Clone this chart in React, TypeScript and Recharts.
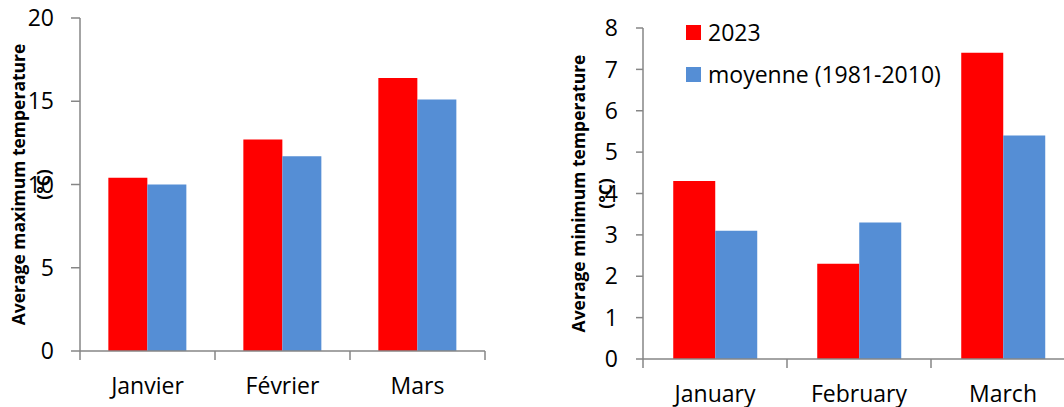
import React from 'react'
import { BarChart, Bar, XAxis, YAxis } from 'recharts'

const maxMonths = ['Janvier', 'Février', 'Mars']
const max2023 = [10.4, 12.7, 16.4]
const maxNormal = [10.0, 11.7, 15.1]
const maxTicks = [0, 5, 10, 15, 20]

const minMonths = ['January', 'February', 'March']
const min2023 = [4.3, 2.3, 7.4]
const minNormal = [3.1, 3.3, 5.4]
const minTicks = [0, 1, 2, 3, 4, 5, 6, 7, 8]

const seriesNames = ['2023', 'moyenne (1981-2010)']

const RED = '#FF0000'
const BLUE = '#558ED5'
const AXIS = '#868686'
const FONT = '"Open Sans", sans-serif'

const maxData = maxMonths.map((m, i) => ({ month: m, y2023: max2023[i], normal: maxNormal[i] }))
const minData = minMonths.map((m, i) => ({ month: m, y2023: min2023[i], normal: minNormal[i] }))

// category label in the middle, tick marks on the band edges (Excel style)
function MonthTick(props: any) {
  const { x, y, payload, index, visibleTicksCount } = props
  const half = payload.offset || 0
  const last = index === visibleTicksCount - 1
  return (
    <g>
      <line x1={x - half} y1={y} x2={x - half} y2={y + 9} stroke={AXIS} strokeWidth={1.5} />
      {last && <line x1={x + half} y1={y} x2={x + half} y2={y + 9} stroke={AXIS} strokeWidth={1.5} />}
      <text x={x} y={y + 43} textAnchor="middle" fill="#000" fontSize={23} fontFamily={FONT}>
        {payload.value}
      </text>
    </g>
  )
}

function AxisTitle(props: any) {
  const { viewBox, line1, line2, x1, x2 } = props
  const cy = viewBox.y + viewBox.height / 2
  const style = { fontFamily: FONT, fontWeight: 700, fontSize: 17.5, fill: '#000' }
  return (
    <g>
      <text x={x1} y={cy} transform={`rotate(-90, ${x1}, ${cy})`} textAnchor="middle" dominantBaseline="central" style={style}>
        {line1}
      </text>
      <text x={x2} y={cy} transform={`rotate(-90, ${x2}, ${cy})`} textAnchor="middle" dominantBaseline="central" style={style}>
        {line2}
      </text>
    </g>
  )
}

function LegendBox() {
  const colors = [RED, BLUE]
  return (
    <div style={{ position: 'absolute', left: 686, top: 11, fontFamily: FONT, fontSize: 23, color: '#000', lineHeight: 1 }}>
      {seriesNames.map((name, i) => (
        <div key={name} style={{ display: 'flex', alignItems: 'center', height: 42, whiteSpace: 'nowrap' }}>
          <span style={{ display: 'inline-block', width: 15, height: 15, background: colors[i], marginRight: 7 }} />
          <span>{name}</span>
        </div>
      ))}
    </div>
  )
}

const tickStyle = { fill: '#000', fontSize: 23, fontFamily: FONT }

export default function App() {
  return (
    <div style={{ position: 'absolute', left: 0, top: 0, width: 1064, height: 407, overflow: 'hidden', background: '#fff' }}>
      <div style={{ position: 'absolute', left: 0, top: 0 }}>
        <BarChart width={500} height={407} data={maxData} margin={{ top: 18, right: 15, bottom: 0, left: 0 }} barCategoryGap="21%" barGap={0}>
          <XAxis dataKey="month" tick={<MonthTick />} tickLine={false} tickSize={0} tickMargin={0} height={56} stroke={AXIS} strokeWidth={1.5} interval={0} />
          <YAxis
            width={80}
            domain={[0, 20]}
            ticks={maxTicks}
            tickSize={9}
            tickMargin={17}
            tick={tickStyle}
            stroke={AXIS}
            strokeWidth={1.5}
            label={<AxisTitle line1="Average maximum temperature" line2="(°C)" x1={18} x2={43} />}
          />
          <Bar dataKey="y2023" name={seriesNames[0]} fill={RED} isAnimationActive={false} />
          <Bar dataKey="normal" name={seriesNames[1]} fill={BLUE} isAnimationActive={false} />
        </BarChart>
      </div>
      <div style={{ position: 'absolute', left: 560, top: 0 }}>
        <BarChart width={520} height={407} data={minData} margin={{ top: 28, right: 5, bottom: 0, left: 0 }} barCategoryGap="21%" barGap={0}>
          <XAxis dataKey="month" tick={<MonthTick />} tickLine={false} tickSize={0} tickMargin={0} height={48} stroke={AXIS} strokeWidth={1.5} interval={0} />
          <YAxis
            width={83}
            domain={[0, 8]}
            ticks={minTicks}
            tickSize={7}
            tickMargin={18}
            tick={tickStyle}
            stroke={AXIS}
            strokeWidth={1.5}
            label={<AxisTitle line1="Average minimum temperature" line2="(°C)" x1={18} x2={45} />}
          />
          <Bar dataKey="y2023" name={seriesNames[0]} fill={RED} isAnimationActive={false} />
          <Bar dataKey="normal" name={seriesNames[1]} fill={BLUE} isAnimationActive={false} />
        </BarChart>
      </div>
      <LegendBox />
    </div>
  )
}
